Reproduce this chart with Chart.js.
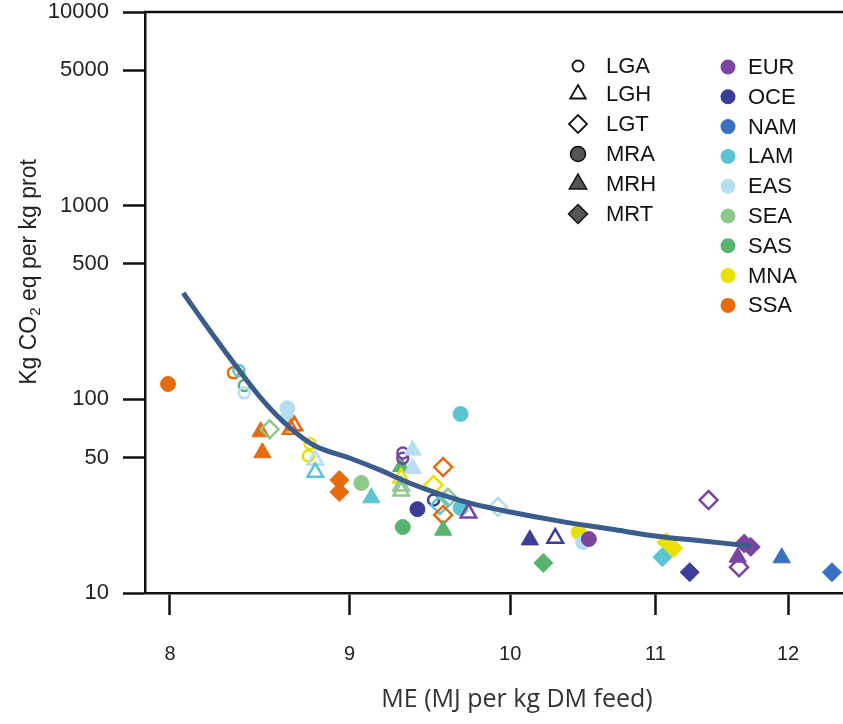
<!DOCTYPE html>
<html lang="en">
<head>
  <meta charset="UTF-8">
  <title>ME vs emission intensity</title>
  <style>
    html, body { margin: 0; padding: 0; background: #fff; }
    .chart-box { width: 843px; height: 724px; position: relative; }
  </style>
</head>
<body>
  <div class="chart-box">
    <canvas id="chartME"></canvas>
  </div>

  <script src="https://cdn.jsdelivr.net/npm/chart.js@4.4.0/dist/chart.umd.min.js"></script>
  <script>
    // axis ticks
    const xTicks = [8, 9, 10, 11, 12];
    const yTicks = [10, 50, 100, 500, 1000, 5000, 10000];

    // legend groups
    const systems = ['LGA', 'LGH', 'LGT', 'MRA', 'MRH', 'MRT'];
    const regions = ['EUR', 'OCE', 'NAM', 'LAM', 'EAS', 'SEA', 'SAS', 'MNA', 'SSA'];
    const regionColors = ['#7a44a0', '#3b3d98', '#3a70c0', '#5cc5d3', '#b5def0', '#8dc98b', '#57b46f', '#e9e100', '#e76b0d'];

    // scatter points
    const pointME = [7.99, 8.34, 8.37, 8.40, 8.40, 8.49, 8.50, 8.54, 8.64, 8.64,
      8.66, 8.68, 8.77, 8.76, 8.80, 8.80, 8.94, 8.94, 9.07, 9.13,
      9.31, 9.32, 9.32, 9.38, 9.38, 9.31, 9.31, 9.31, 9.32, 9.41,
      9.57, 9.51, 9.51, 9.60, 9.55, 9.57, 9.57, 9.68, 9.68, 9.73,
      9.92, 10.13, 10.30, 10.22, 10.46, 10.49, 10.53, 11.08, 11.13, 11.05,
      11.25, 11.39, 11.61, 11.71, 11.66, 11.62, 11.95, 12.35];
    const pointCO2 = [120, 137, 141, 118, 108, 68, 53, 70, 90, 80,
      70, 73, 59, 51, 48.6, 42, 38.3, 33.2, 37, 31,
      45, 52.8, 49.7, 54.7, 44, 39.2, 35.7, 33.6, 21.9, 27.1,
      44.7, 36.1, 30.2, 31, 28.5, 25.3, 21.1, 27.5, 84, 25.9,
      27.8, 18.8, 19.2, 14.3, 20.6, 18.3, 19.0, 18.3, 17.0, 15.3,
      12.8, 30.2, 15.3, 17.3, 18.0, 13.6, 15.2, 12.8];
    const pointRegion = ['SSA', 'SSA', 'LAM', 'SAS', 'EAS', 'SSA', 'SSA', 'SEA', 'EAS', 'EAS',
      'SSA', 'SSA', 'MNA', 'MNA', 'EAS', 'LAM', 'SSA', 'SSA', 'SEA', 'LAM',
      'SAS', 'EUR', 'EUR', 'EAS', 'EAS', 'MNA', 'SEA', 'SEA', 'SAS', 'OCE',
      'SSA', 'MNA', 'OCE', 'SEA', 'LAM', 'SSA', 'SAS', 'LAM', 'LAM', 'EUR',
      'EAS', 'OCE', 'OCE', 'SAS', 'MNA', 'EAS', 'EUR', 'MNA', 'MNA', 'LAM',
      'OCE', 'EUR', 'EUR', 'EUR', 'EUR', 'EUR', 'NAM', 'NAM'];
    const pointSystem = ['MRA', 'LGA', 'LGA', 'LGA', 'LGA', 'MRH', 'MRH', 'LGT', 'MRA', 'MRA',
      'LGH', 'LGH', 'LGA', 'LGA', 'LGH', 'LGH', 'MRT', 'MRT', 'MRA', 'MRH',
      'MRH', 'LGA', 'LGA', 'MRH', 'MRH', 'LGH', 'LGH', 'LGH', 'MRA', 'MRA',
      'LGT', 'LGT', 'LGA', 'LGT', 'LGT', 'LGT', 'MRH', 'MRA', 'MRA', 'LGH',
      'LGT', 'MRH', 'LGH', 'MRT', 'MRA', 'MRA', 'MRA', 'MRT', 'MRT', 'MRT',
      'MRT', 'LGT', 'MRH', 'MRT', 'MRT', 'LGT', 'MRH', 'MRT'];

    // fitted curve
    const trendME = [8.07, 8.21, 8.37, 8.51, 8.65, 8.80, 9.00, 9.18, 9.36, 9.55, 9.74, 10.0, 10.33, 10.68, 11.0, 11.33, 11.71];
    const trendCO2 = [354, 228, 142, 97, 72, 57.4, 49.8, 43.2, 37, 32.4, 29.1, 26.2, 23.5, 21.4, 19.7, 18.6, 17.5];

    // marker look per system
    const systemStyle = {
      LGA: { shape: 'circle', r: 5.5, open: true },
      LGH: { shape: 'triangle', r: 9, open: true },
      LGT: { shape: 'rectRot', r: 9, open: true },
      MRA: { shape: 'circle', r: 7.5, open: false },
      MRH: { shape: 'triangle', r: 10, open: false },
      MRT: { shape: 'rectRot', r: 9.5, open: false }
    };

    const colorOf = (reg) => regionColors[regions.indexOf(reg)];

    const scatterData = pointME.map((x, i) => ({ x: x, y: pointCO2[i] }));
    const ptStyle = pointSystem.map(s => systemStyle[s].shape);
    const ptRadius = pointSystem.map(s => systemStyle[s].r);
    const ptFill = pointSystem.map((s, i) => systemStyle[s].open ? 'rgba(255,255,255,0)' : colorOf(pointRegion[i]));
    const ptBorder = pointRegion.map(r => colorOf(r));
    const ptBorderW = pointSystem.map(s => systemStyle[s].open ? 2.5 : 1);

    const FONT = '"Liberation Sans", Arial, sans-serif';

    // path for a marker shape (legend only)
    function markPath(ctx, shape, x, y, r) {
      ctx.beginPath();
      if (shape === 'circle') {
        ctx.arc(x, y, r, 0, Math.PI * 2);
      } else if (shape === 'triangle') {
        ctx.moveTo(x, y - r);
        ctx.lineTo(x + r * 0.866, y + r * 0.5);
        ctx.lineTo(x - r * 0.866, y + r * 0.5);
        ctx.closePath();
      } else {
        ctx.moveTo(x, y - r);
        ctx.lineTo(x + r, y);
        ctx.lineTo(x, y + r);
        ctx.lineTo(x - r, y);
        ctx.closePath();
      }
    }

    const framePlugin = {
      id: 'framePlugin',
      afterDraw(chart) {
        const ctx = chart.ctx;
        const a = chart.chartArea;
        ctx.save();
        // top border of the box
        ctx.strokeStyle = '#111';
        ctx.lineWidth = 2.5;
        ctx.beginPath();
        ctx.moveTo(a.left - 1, a.top);
        ctx.lineTo(chart.width, a.top);
        ctx.stroke();

        // x title
        ctx.font = '25px "Open Sans", sans-serif';
        ctx.fillStyle = '#333';
        ctx.textAlign = 'center';
        ctx.textBaseline = 'middle';
        ctx.fillText('ME (MJ per kg DM feed)', 517, 700);

        // y title with subscript
        ctx.translate(30, 272);
        ctx.rotate(-Math.PI / 2);
        ctx.fillStyle = '#222';
        ctx.textAlign = 'left';
        const big = '23px ' + FONT;
        const small = '15px ' + FONT;
        const parts = [['Kg CO', big, 0], ['2', small, 6], [' eq per kg prot', big, 0]];
        let total = 0;
        parts.forEach(p => { ctx.font = p[1]; total += ctx.measureText(p[0]).width; });
        let px = -total / 2;
        parts.forEach(p => {
          ctx.font = p[1];
          ctx.fillText(p[0], px, p[2]);
          px += ctx.measureText(p[0]).width;
        });
        ctx.restore();

        // legend
        ctx.save();
        ctx.font = '22px ' + FONT;
        ctx.textBaseline = 'middle';
        ctx.fillStyle = '#111';
        const sysY = [66, 94, 124, 154, 184, 214];
        systems.forEach((s, i) => {
          const st = systemStyle[s];
          markPath(ctx, st.shape, 578, sysY[i], st.r);
          if (st.open) {
            ctx.lineWidth = 1.8;
            ctx.strokeStyle = '#111';
            ctx.stroke();
          } else {
            ctx.fillStyle = '#555';
            ctx.fill();
            ctx.lineWidth = 1.5;
            ctx.strokeStyle = '#111';
            ctx.stroke();
          }
          ctx.fillStyle = '#111';
          ctx.fillText(s, 606, sysY[i] + 1);
        });
        regions.forEach((r, i) => {
          const y = 67 + i * 29.8;
          markPath(ctx, 'circle', 728, y, 7.5);
          ctx.fillStyle = regionColors[i];
          ctx.fill();
          ctx.fillStyle = '#111';
          ctx.fillText(r, 748, y + 1);
        });
        ctx.restore();
      }
    };

    new Chart(document.getElementById('chartME'), {
      type: 'scatter',
      plugins: [framePlugin],
      data: {
        datasets: [
          {
            type: 'line',
            data: trendME.map((x, i) => ({ x: x, y: trendCO2[i] })),
            borderColor: '#3b5d8b',
            borderWidth: 5,
            pointRadius: 0,
            tension: 0.4,
            fill: false
          },
          {
            data: scatterData,
            pointStyle: ptStyle,
            pointRadius: ptRadius,
            pointBackgroundColor: ptFill,
            pointBorderColor: ptBorder,
            pointBorderWidth: ptBorderW,
            clip: false
          }
        ]
      },
      options: {
        responsive: true,
        maintainAspectRatio: false,
        animation: false,
        layout: { padding: 0, autoPadding: false },
        plugins: {
          legend: { display: false },
          tooltip: { enabled: false }
        },
        scales: {
          x: {
            type: 'logarithmic',
            min: 7.87,
            max: 12.44,
            afterBuildTicks: (s) => { s.ticks = xTicks.map(v => ({ value: v })); },
            afterFit: (s) => { s.height = 131; s.paddingRight = 0; s.paddingLeft = 0; },
            grid: { drawOnChartArea: false, drawTicks: true, tickLength: 22, tickColor: '#111', tickWidth: 2.5 },
            border: { display: true, color: '#111', width: 2.5 },
            ticks: {
              autoSkip: false, maxRotation: 0, padding: 27,
              color: '#222', font: { family: FONT, size: 20 },
              callback: (v) => String(v)
            }
          },
          y: {
            type: 'logarithmic',
            min: 10,
            max: 10000,
            afterBuildTicks: (s) => { s.ticks = yTicks.map(v => ({ value: v })); },
            afterFit: (s) => { s.width = 145; s.paddingTop = 12; s.paddingBottom = 0; },
            grid: { drawOnChartArea: false, drawTicks: true, tickLength: 22, tickColor: '#111', tickWidth: 2.5 },
            border: { display: true, color: '#111', width: 2.5 },
            ticks: {
              autoSkip: false, padding: 14,
              color: '#222', font: { family: FONT, size: 22 },
              callback: (v) => String(v)
            }
          }
        }
      }
    });
  </script>
</body>
</html>
